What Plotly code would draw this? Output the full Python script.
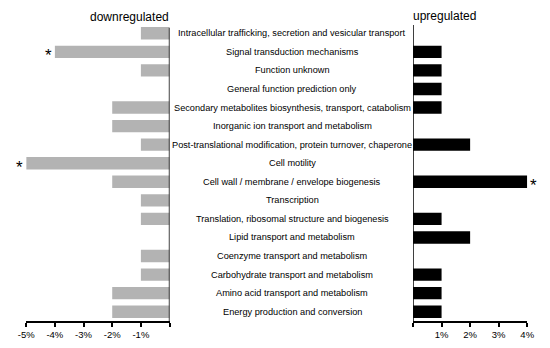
import plotly.graph_objects as go

categories = [
    "Intracellular trafficking, secretion and vesicular transport",
    "Signal transduction mechanisms",
    "Function unknown",
    "General function prediction only",
    "Secondary metabolites biosynthesis, transport, catabolism",
    "Inorganic ion transport and metabolism",
    "Post-translational modification, protein turnover, chaperone",
    "Cell motility",
    "Cell wall / membrane / envelope biogenesis",
    "Transcription",
    "Translation, ribosomal structure and biogenesis",
    "Lipid transport and metabolism",
    "Coenzyme transport and metabolism",
    "Carbohydrate transport and metabolism",
    "Amino acid transport and metabolism",
    "Energy production and conversion",
]
down_values = [-1, -4, -1, 0, -2, -2, -1, -5, -2, -1, -1, 0, -1, -1, -2, -2]
up_values = [0, 1, 1, 1, 1, 0, 2, 0, 4, 0, 1, 2, 0, 1, 1, 1]
down_sig = [False, True, False, False, False, False, False, True, False, False, False, False, False, False, False, False]
up_sig = [False, False, False, False, False, False, False, False, True, False, False, False, False, False, False, False]

left_ticks = [-5, -4, -3, -2, -1, 0]
left_ticktext = ["-5%", "-4%", "-3%", "-2%", "-1%", ""]
right_ticks = [0, 1, 2, 3, 4]
right_ticktext = ["", "1%", "2%", "3%", "4%"]

# the page has an 8px body margin; the figure is sized to fit inside it
OFF = 8
W, H = 550 - 2 * OFF, 348 - 2 * OFF
font = "Liberation Sans, Arial, Helvetica, sans-serif"


def px(x):
    return (x - OFF) / W


fig = go.Figure()
fig.add_trace(go.Bar(y=categories, x=down_values, orientation="h",
                     marker=dict(color="#b3b3b3", line=dict(width=0)),
                     xaxis="x", yaxis="y", showlegend=False, hoverinfo="x+y"))
fig.add_trace(go.Bar(y=categories, x=up_values, orientation="h",
                     marker=dict(color="#000000", line=dict(width=0)),
                     xaxis="x2", yaxis="y", showlegend=False, hoverinfo="x+y"))

annotations = []
for c in categories:
    annotations.append(dict(x=px(292), y=c, xref="paper", yref="y", text=c,
                            showarrow=False, xanchor="center", yanchor="middle",
                            font=dict(size=9.2, color="#000", family=font)))
for c, v, s in zip(categories, down_values, down_sig):
    if s:
        annotations.append(dict(x=v, y=c, xref="x", yref="y", text="*", showarrow=False,
                                xanchor="center", yanchor="middle", xshift=-6.5, yshift=-4,
                                font=dict(size=17, color="#000", family=font)))
for c, v, s in zip(categories, up_values, up_sig):
    if s:
        annotations.append(dict(x=v, y=c, xref="x2", yref="y", text="*", showarrow=False,
                                xanchor="center", yanchor="middle", xshift=6.5, yshift=-4,
                                font=dict(size=17, color="#000", family=font)))
annotations.append(dict(x=0, y=1.0, xref="x", yref="paper", text="downregulated",
                        showarrow=False, xanchor="right", yanchor="bottom", xshift=1, yshift=-2,
                        font=dict(size=12, color="#000", family=font)))
annotations.append(dict(x=0, y=1.0, xref="x2", yref="paper", text="upregulated",
                        showarrow=False, xanchor="left", yanchor="bottom", xshift=-2, yshift=-1,
                        font=dict(size=12, color="#000", family=font)))

shapes = [
    dict(type="line", xref="x", yref="paper", x0=0, x1=0, y0=0, y1=0.987,
         line=dict(color="#000", width=1.5)),
    dict(type="line", xref="x2", yref="paper", x0=0, x1=0, y0=0, y1=0.997,
         line=dict(color="#000", width=1.5)),
]

axis_common = dict(showgrid=False, zeroline=False, showline=True, linecolor="#000",
                   linewidth=1.5, ticks="outside", ticklen=4, tickwidth=1.5, tickcolor="#000",
                   tickfont=dict(size=9.5, color="#000", family=font))

fig.update_layout(
    width=W, height=H,
    autosize=False,
    margin=dict(l=0, r=0, t=24 - OFF, b=24 - OFF),
    plot_bgcolor="white", paper_bgcolor="white",
    bargap=0.33,
    barmode="overlay",
    xaxis=dict(domain=[px(18.5), px(166)], range=[-5, 0], tickvals=left_ticks,
               ticktext=left_ticktext, anchor="y", **axis_common),
    xaxis2=dict(domain=[px(416.5), px(534)], range=[0, 4], tickvals=right_ticks,
                ticktext=right_ticktext, anchor="y", **axis_common),
    yaxis=dict(categoryorder="array", categoryarray=categories, autorange="reversed",
               showticklabels=False, showgrid=False, zeroline=False, showline=False, ticks=""),
    annotations=annotations,
    shapes=shapes,
)

fig.write_html("out.html")
